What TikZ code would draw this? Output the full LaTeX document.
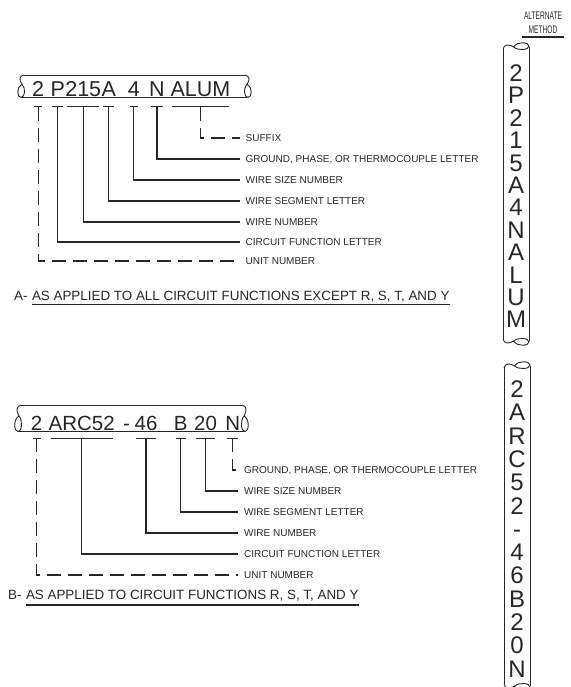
\documentclass[tikz,border=0pt]{standalone}
\usepackage{fontspec}
\setmainfont{Liberation Sans}
\usetikzlibrary{positioning}

\begin{document}
\begin{tikzpicture}[
    x=1pt, y=-1pt,
    color=black!85,
    wire/.style={
        draw=black!85,
        line width=0.9pt
    },
    wirebreak/.pic={
        \draw[wire] (4,0) .. controls (-1,1) and (-1,5) .. (2,9)
            .. controls (6,13) and (5,22) .. (1,22)
            .. controls (-3,22) and (-4,12) .. (2,9);
    },
    tokA/.style={
        inner sep=0pt,
        text height=15.4pt,
        text depth=0pt,
        font=\fontsize{21.5}{24}\selectfont
    },
    tokB/.style={
        tokA,
        font=\fontsize{20.5}{23}\selectfont
    },
    vchar/.style={
        inner sep=0pt,
        text height=17pt,
        text depth=0pt,
        font=\fontsize{24}{26}\selectfont
    },
    lbl/.style={
        anchor=west,
        inner xsep=6pt,
        inner ysep=0pt,
        text height=7.2pt,
        text depth=0pt,
        font=\fontsize{10}{12}\selectfont
    },
    ttl/.style={
        inner sep=0pt,
        font=\fontsize{13.4}{16}\selectfont
    },
    altlbl/.style={
        align=center,
        inner xsep=3pt,
        inner ysep=3.5pt,
        xscale=0.6,
        transform shape,
        font=\fontsize{11}{14}\selectfont
    },
    tick/.style={
        line width=1.2pt
    },
    lead/.style={
        draw,
        line width=1.2pt
    },
    dashlead/.style={
        lead,
        dash pattern=on 14pt off 7pt
    },
    uline/.style={
        line width=1.1pt
    }
]
\useasboundingbox (0,0) rectangle (570,687);

% Wire A: the horizontal marking
\draw[wire] (24,75) -- (245,75);
\draw[wire] (22,97.5) -- (247,97.5);
\pic[yscale=1.02] at (20,75) {wirebreak};
\pic[xscale=-1, yscale=1.02] at (249,75) {wirebreak};

\node[tokA, anchor=base west] (a2) at (32,96.5) {2};
\node[tokA, base right=6pt of a2] (aP) {P};
\node[tokA, base right=0pt of aP] (a215) {215};
\node[tokA, base right=0pt of a215] (aA) {A};
\node[tokA, base right=11.5pt of aA] (a4) {4};
\node[tokA, base right=9pt of a4] (aN) {N};
\node[tokA, base right=5.5pt of aN] (aALUM) {ALUM};

% Wire A: what each part means
\node[lbl] (aSuffix) at (239.5,138) {SUFFIX};
\node[lbl] (aGround) at (239.5,159) {GROUND, PHASE, OR THERMOCOUPLE LETTER};
\node[lbl] (aSize) at (239.5,180) {WIRE SIZE NUMBER};
\node[lbl] (aSeg) at (239.5,201) {WIRE SEGMENT LETTER};
\node[lbl] (aNum) at (239.5,222) {WIRE NUMBER};
\node[lbl] (aFunc) at (239.5,242) {CIRCUIT FUNCTION LETTER};
\node[lbl] (aUnit) at (239.5,261) {UNIT NUMBER};

\foreach \t in {a2,aP,a215,aA,a4,aN,aALUM}
    \draw[tick] ([shift={(2,10)}]\t.south west) -- ([shift={(-2,10)}]\t.south east);

\draw[dashlead] ([yshift=-10pt]a2.south) |- (aUnit.west);
\draw[lead] ([yshift=-10pt]aP.south) |- (aFunc.west);
\draw[lead] ([yshift=-10pt]a215.south) |- (aNum.west);
\draw[lead] ([yshift=-10pt]aA.south) |- (aSeg.west);
\draw[lead] ([yshift=-10pt]a4.south) |- (aSize.west);
\draw[lead] ([yshift=-10pt]aN.south) |- (aGround.west);
\draw[dashlead] ([yshift=-10pt]aALUM.south) |- (aSuffix.west);

\node[ttl, anchor=base west] (tA) at (14,300) {A-};
\node[ttl, base right=4pt of tA] (tAtext) {AS APPLIED TO ALL CIRCUIT FUNCTIONS EXCEPT R, S, T, AND Y};
\draw[uline] ([yshift=-4.5pt]tAtext.base west) -- ([yshift=-4.5pt]tAtext.base east);

% Wire B: the horizontal marking
\draw[wire] (21,405) -- (242,405);
\draw[wire] (19,431.7) -- (244,431.7);
\pic[yscale=1.21] at (17,405) {wirebreak};
\pic[xscale=-1, yscale=1.21] at (246,405) {wirebreak};

\node[tokB, anchor=base west] (b2) at (30.7,430) {2};
\node[tokB, base right=6pt of b2] (bARC) {ARC52};
\node[tokB, base right=8pt of bARC] (bDash) {-};
\node[tokB, base right=4.2pt of bDash] (b46) {46};
\node[tokB, base right=16pt of b46] (bB) {B};
\node[tokB, base right=6.3pt of bB] (b20) {20};
\node[tokB, base right=8pt of b20] (bN) {N};

% Wire B: what each part means
\node[lbl] (bGround) at (238,470) {GROUND, PHASE, OR THERMOCOUPLE LETTER};
\node[lbl] (bSize) at (238,491) {WIRE SIZE NUMBER};
\node[lbl] (bSeg) at (238,512) {WIRE SEGMENT LETTER};
\node[lbl] (bNum) at (238,533) {WIRE NUMBER};
\node[lbl] (bFunc) at (238,554) {CIRCUIT FUNCTION LETTER};
\node[lbl] (bUnit) at (238,575) {UNIT NUMBER};

\foreach \t in {b2,bARC,b46,bB,b20,bN}
    \draw[tick] ([shift={(2,8)}]\t.south west) -- ([shift={(-2,8)}]\t.south east);

\draw[dashlead] ([yshift=-8pt]b2.south) |- (bUnit.west);
\draw[lead] ([yshift=-8pt]bARC.south) |- (bFunc.west);
\draw[lead] ([yshift=-8pt]b46.south) |- (bNum.west);
\draw[lead] ([yshift=-8pt]bB.south) |- (bSeg.west);
\draw[lead] ([yshift=-8pt]b20.south) |- (bSize.west);
\draw[dashlead] ([yshift=-8pt]bN.south) |- (bGround.west);

\node[ttl, anchor=base west] (tB) at (8,599) {B-};
\node[ttl, base right=4pt of tB] (tBtext) {AS APPLIED TO CIRCUIT FUNCTIONS R, S, T, AND Y};
\draw[uline] ([yshift=-6pt]tBtext.base west) -- ([yshift=-6pt]tBtext.base east);

% Alternate method: vertical markings
\node[altlbl, anchor=south] (alt) at (543,37) {ALTERNATE\\METHOD};
\draw[uline] (alt.south west) -- (alt.south east);

\draw[wire] (503,49) -- (503,339);
\draw[wire] (529,47) -- (529,341);
\pic[cm={0,-1,-1,0,(0,0)}, yscale=1.18] at (503,45) {wirebreak};
\pic[cm={0,1,-1,0,(0,0)}, yscale=1.18] at (503,343) {wirebreak};
\foreach \c [count=\i from 0] in {2,P,2,1,5,A,4,N,A,L,U,M}
    \node[vchar] (va\i) at (516,{73+22.4*\i}) {\c};

\draw[wire] (504,368) -- (504,684);
\draw[wire] (530,366) -- (530,686);
\pic[cm={0,-1,-1,0,(0,0)}, yscale=1.18] at (504,364) {wirebreak};
\pic[cm={0,1,-1,0,(0,0)}, yscale=1.18] at (504,688) {wirebreak};
\foreach \c [count=\i from 0] in {2,A,R,C,5,2,-,4,6,B,2,0,N}
    \node[vchar] (vb\i) at (517,{389+23.3*\i}) {\c};

\end{tikzpicture}
\end{document}
